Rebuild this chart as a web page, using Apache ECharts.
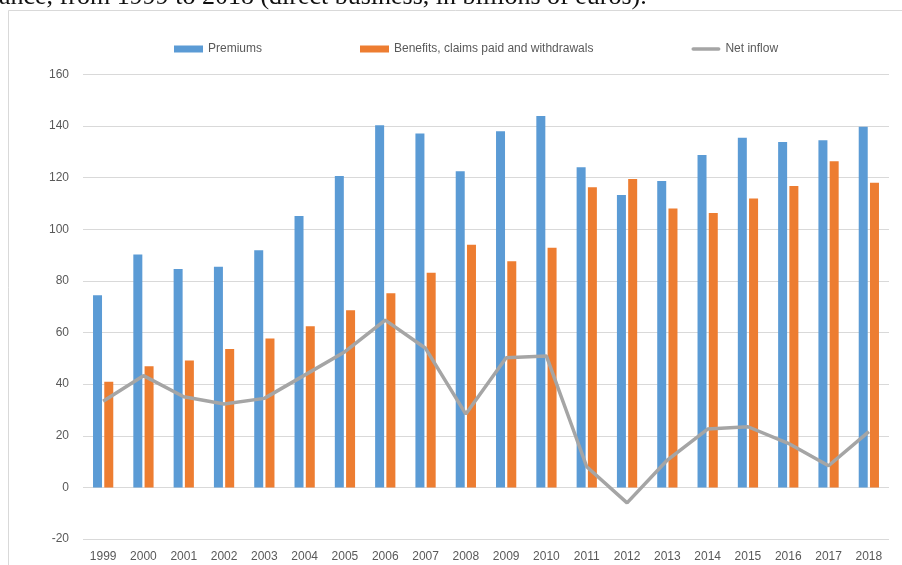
<!DOCTYPE html>
<html>
<head>
<meta charset="utf-8">
<script src="https://cdn.jsdelivr.net/npm/echarts@6/dist/echarts.min.js"></script>
<style>
html,body{margin:0;padding:0;background:#fff;}
#chart{width:902px;height:565px;}
</style>
</head>
<body>
<div id="chart"></div>
<script>
const years = ['1999','2000','2001','2002','2003','2004','2005','2006','2007','2008','2009','2010','2011','2012','2013','2014','2015','2016','2017','2018'];
const premiums = [74.5, 90.2, 84.6, 85.5, 91.9, 105.2, 120.7, 140.3, 137.1, 122.5, 138.0, 143.9, 124.1, 113.3, 118.7, 128.8, 135.5, 133.8, 134.5, 139.8];
const benefits = [40.9, 46.9, 49.2, 53.6, 57.7, 62.4, 68.6, 75.2, 83.2, 94.0, 87.6, 92.9, 116.3, 119.5, 108.1, 106.3, 111.9, 116.8, 126.4, 118.1];
const netInflow = [33.4, 43.3, 35.1, 32.3, 34.5, 43.5, 52.6, 64.8, 53.9, 28.4, 50.2, 50.9, 8.0, -6.0, 10.6, 22.6, 23.5, 17.1, 8.4, 21.6];
const yTicks = {min: -20, max: 160, interval: 20};
const caption = 'ance, from 1999 to 2018 (direct business, in billions of euros).';

const chart = echarts.init(document.getElementById('chart'), null, {renderer: 'canvas'});
const font = '"Liberation Sans", Arial, sans-serif';
chart.setOption({
  animation: false,
  backgroundColor: '#fff',
  graphic: [
    {type: 'text', left: -1, top: -16, style: {text: caption, font: '26px "Liberation Serif", "Times New Roman", serif', fill: '#111'}},
    {type: 'line', shape: {x1: 8.5, y1: 10.5, x2: 902, y2: 10.5}, style: {stroke: '#d9d9d9', lineWidth: 1}},
    {type: 'line', shape: {x1: 8.5, y1: 10.5, x2: 8.5, y2: 565}, style: {stroke: '#d9d9d9', lineWidth: 1}}
  ],
  legend: {
    left: 169, top: 38,
    itemWidth: 29, itemHeight: 7, itemGap: 98,
    textStyle: {fontFamily: font, fontSize: 12, color: '#595959'},
    data: [
      {name: 'Premiums', icon: 'rect'},
      {name: 'Benefits, claims paid and withdrawals', icon: 'rect'},
      {name: 'Net inflow', icon: 'path://M2,0 L30,0 A2,2 0 0 1 30,4 L2,4 A2,2 0 0 1 2,0 Z', itemStyle: {color: '#a5a5a5'}}
    ]
  },
  grid: {left: 83, right: 13, top: 74.5, bottom: 26, containLabel: false},
  xAxis: {
    type: 'category', data: years, boundaryGap: true,
    axisLine: {show: false}, axisTick: {show: false},
    axisLabel: {fontFamily: font, fontSize: 12, color: '#595959', margin: 12, interval: 0}
  },
  yAxis: {
    type: 'value', min: yTicks.min, max: yTicks.max, interval: yTicks.interval,
    axisLine: {show: false}, axisTick: {show: false},
    axisLabel: {fontFamily: font, fontSize: 12, color: '#595959', margin: 14},
    splitLine: {lineStyle: {color: '#d9d9d9', width: 1}}
  },
  series: [
    {name: 'Premiums', type: 'bar', data: premiums, barWidth: 9, barGap: '25%', itemStyle: {color: '#5b9bd5'}},
    {name: 'Benefits, claims paid and withdrawals', type: 'bar', data: benefits, barWidth: 9, barGap: '25%', itemStyle: {color: '#ed7d31'}},
    {name: 'Net inflow', type: 'line', data: netInflow, symbol: 'none', lineStyle: {color: '#a5a5a5', width: 3.5}, itemStyle: {color: '#a5a5a5'}, z: 3}
  ]
});
</script>
</body>
</html>
